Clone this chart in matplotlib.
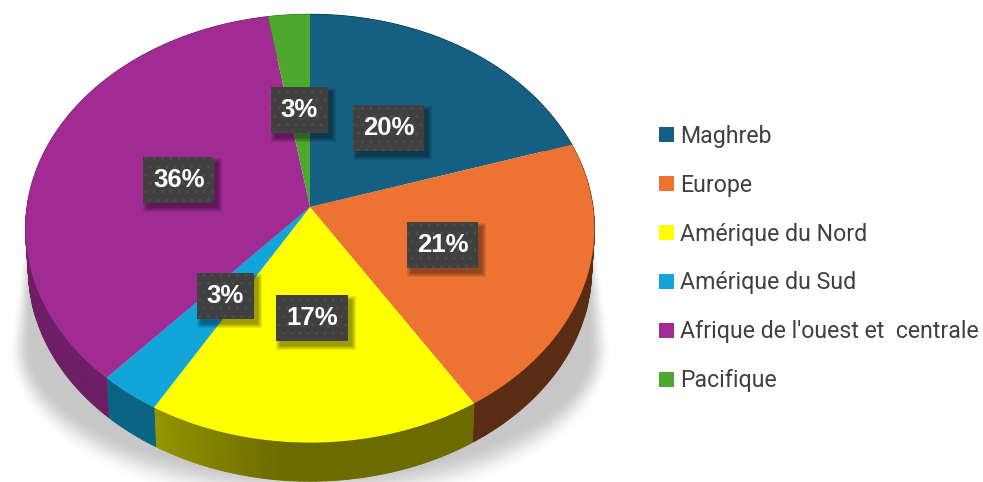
import numpy as np
import matplotlib
matplotlib.use('Agg')
import matplotlib.pyplot as plt
from matplotlib.patches import Patch, Rectangle
from matplotlib.colors import to_rgb

# Donnees
labels = ['Maghreb', 'Europe', 'Amérique du Nord', 'Amérique du Sud',
          "Afrique de l'ouest et  centrale", 'Pacifique']
values = [20.1, 21.0, 17.3, 3.2, 35.8, 2.6]

colors = ['#156082', '#ed7333', '#ffff00', '#12a5da', '#a02b93', '#4ea72e']
side_dark = [0.45, 0.38, 0.42, 0.60, 0.69, 0.60]

W, H = 983, 482
CX, CY = 310, 207
RX, RY, K = 283, 212, 0.1
DEPTH = 41


def project(theta, r=1.0, drop=0.0):
    # disque incline vu en perspective, theta en degres depuis le haut
    t = np.radians(theta)
    u = r * np.sin(t)
    v = r * np.cos(t)
    s = 1 - 0.01 * drop / DEPTH
    x = CX + s * RX * u / (1 + K * v)
    y = CY - s * RY * v / (1 + K * v) + drop
    return x, y


fig = plt.figure(figsize=(W / 100, H / 100), dpi=100)
ax = fig.add_axes([0, 0, 1, 1])
ax.set_xlim(0, W)
ax.set_ylim(H, 0)
ax.axis('off')

fracs = np.array(values) / sum(values)
edges = np.concatenate([[0], np.cumsum(fracs) * 360])

# Ombre sous le disque : formes emboitees, du blanc vers le gris
th = np.linspace(90, 270, 181)
n_shadow = 40
for i in range(n_shadow):
    g = i / (n_shadow - 1)
    a = 302 - 24 * g
    b = 165 - 42 * g
    sx = CX + a * np.sin(np.radians(th))
    sy = 347 - b * np.cos(np.radians(th))
    sx = np.r_[32, sx[::-1], 586]
    sy = np.r_[200, sy[::-1], 180]
    shade = 1 - (1 - 0.78) * g * g * (3 - 2 * g)
    ax.fill(sx, sy, color=(shade, shade, shade), lw=0, zorder=1)

# Cotes
for i in range(len(values)):
    a0, a1 = edges[i], edges[i + 1]
    base = np.array(to_rgb(colors[i]))
    for a in np.arange(a0, a1, 1.0):
        b = min(a + 1.0, a1)
        f = side_dark[i]
        if colors[i] == '#ffff00':
            f = f + 0.17 * np.clip((a - 185) / 25, 0, 1)
        aa = np.array([a, b])
        x0, y0 = project(aa)
        x1, y1 = project(aa[::-1], drop=DEPTH)
        ax.fill(np.r_[x0, x1], np.r_[y0, y1], facecolor=base * f,
                edgecolor=base * f, lw=0.7, zorder=2)

# Dessus
for i in range(len(values)):
    aa = np.linspace(edges[i], edges[i + 1], 200)
    x, y = project(aa)
    ax.fill(np.r_[CX, x], np.r_[CY, y], color=colors[i], lw=0, zorder=3)

# Etiquettes
renderer = fig.canvas.get_renderer()
for i, v in enumerate(fracs):
    mid = (edges[i] + edges[i + 1]) / 2
    x, y = project(mid, 0.49)
    y = y + 1.5
    t = ax.text(x, y, '{:.0f}%'.format(v * 100), color='white', fontsize=18.5,
                fontweight='bold', family='Liberation Sans', ha='center',
                va='center', zorder=7)
    bw = t.get_window_extent(renderer).width + 20
    bh = 46
    for k in range(5):
        grow = 4 - k
        ax.add_patch(Rectangle((x - bw / 2 + 4 - grow, y - bh / 2 + 5 - grow),
                               bw + 2 * grow, bh + 2 * grow, facecolor='black',
                               alpha=0.09, lw=0, zorder=5))
    ax.add_patch(Rectangle((x - bw / 2, y - bh / 2), bw, bh, facecolor='#404040',
                           edgecolor='#4c4c4c', hatch='..', lw=0, zorder=6))

handles = [Patch(facecolor=c, edgecolor='none') for c in colors]
ax.legend(handles, labels, loc='center left', bbox_to_anchor=(638 / W, 1 - 258.5 / H),
          frameon=False, labelcolor='#404040', handlelength=0.65,
          handleheight=0.65, handletextpad=0.26, labelspacing=1.12,
          prop={'family': 'Roboto', 'size': 16.7})

fig.savefig('out.png', dpi=100)
